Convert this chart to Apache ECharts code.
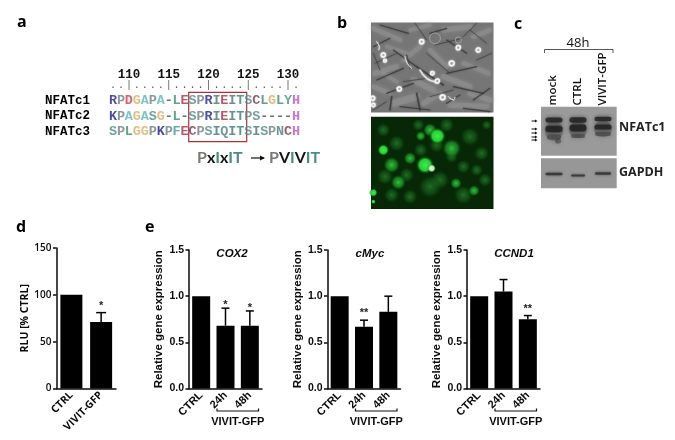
<!DOCTYPE html>
<html><head><meta charset="utf-8">
<style>html,body{margin:0;padding:0;background:#fff}#c{width:675px;height:440px}</style>
<script src="https://cdn.jsdelivr.net/npm/echarts@6/dist/echarts.min.js"></script>
</head><body><div id="c"></div>
<script>
// ---------- data ----------
const seqNames = ['NFATc1', 'NFATc2', 'NFATc3'];
const seqRows = ['RPDGAPA-LESPRIEITSCLGLYH', 'KPAGASG-L-SPRIEITPS----H', 'SPLGGPKPFECPSIQITSISPNCH'];
const rulerRow = '..|....|....|....|....|.';
const residueNumbers = ['110', '115', '120', '125', '130'];
const rlu = { cats: ['CTRL', 'VIVIT-GFP'], vals: [100, 71], errs: [null, 81], stars: ['', '*'] };
const timeCats = ['CTRL', '24h', '48h'];
const cox2 = [1.0, 0.68, 0.68];
const cox2Err = [null, 0.87, 0.84];
const cox2Stars = ['', '*', '*'];
const cmyc = [1.0, 0.67, 0.83];
const cmycErr = [null, 0.74, 1.0];
const cmycStars = ['', '**', ''];
const ccnd1 = [1.0, 1.05, 0.75];
const ccnd1Err = [null, 1.18, 0.79];
const ccnd1Stars = ['', '', '**'];

// ---------- style ----------
const resColor = { R:'#1d1d8c', K:'#1d1d8c', D:'#cf3a44', E:'#a92f3f', G:'#dcae62', A:'#58b9ba', P:'#6f7e80',
  '-':'#3f4f45', L:'#338c6c', S:'#4f888a', I:'#3f7776', T:'#338074', C:'#82304a', H:'#c050c2', Y:'#3d9884',
  F:'#3698a0', N:'#487e82', Q:'#508088' };
const sans = '"Liberation Sans"', mono = '"Liberation Mono"', soft = '"Open Sans"';
const INK = '#0a0a0a';

const panels = [
  { name:'', titleOff:0, left:56.5, width:59.5, cats:rlu.cats, vals:rlu.vals, errs:rlu.errs, stars:rlu.stars, max:150, step:50,
    barW:22, cap:10, starGap:10, yName:'RLU [% CTRL]', font:soft, size:10.5, nameSize:10.5, nameGap:22, top:248, bottom:388.5 },
  { name:'COX2', titleOff:38, left:189, width:73, cats:timeCats, vals:cox2, errs:cox2Err, stars:cox2Stars, max:1.5, step:0.5,
    barW:18, cap:8, starGap:6, yName:'Relative gene expression', font:sans, size:11, nameSize:11.5, nameGap:24, top:250, bottom:388.5 },
  { name:'cMyc', titleOff:37.5, left:327.5, width:73, cats:timeCats, vals:cmyc, errs:cmycErr, stars:cmycStars, max:1.5, step:0.5,
    barW:18, cap:8, starGap:10, yName:'Relative gene expression', font:sans, size:11, nameSize:11.5, nameGap:24, top:250, bottom:388.5 },
  { name:'CCND1', titleOff:42, left:467, width:73, cats:timeCats, vals:ccnd1, errs:ccnd1Err, stars:ccnd1Stars, max:1.5, step:0.5,
    barW:18, cap:8, starGap:10, yName:'Relative gene expression', font:sans, size:11, nameSize:11.5, nameGap:24, top:250, bottom:388.5 }
];

const grid = [], xAxis = [], yAxis = [], series = [], title = [], graphic = [];

panels.forEach((p, i) => {
  grid.push({ left:p.left, width:p.width, top:p.top, height:p.bottom - p.top, containLabel:false });
  xAxis.push({ type:'category', gridIndex:i, data:p.cats,
    axisLine:{ lineStyle:{ color:INK, width:1.5 } }, axisTick:{ show:false },
    axisLabel:{ rotate:45, interval:0, margin:5, color:INK, fontFamily:p.font, fontWeight:'bold', fontSize:p.size } });
  yAxis.push({ type:'value', gridIndex:i, min:0, max:p.max, interval:p.step, splitLine:{ show:false },
    name:p.yName, nameLocation:'middle', nameGap:p.nameGap,
    nameTextStyle:{ color:INK, fontFamily:p.font, fontWeight:'bold', fontSize:p.nameSize },
    axisLine:{ show:true, lineStyle:{ color:INK, width:1.5 } },
    axisTick:{ show:true, length:3.5, lineStyle:{ color:INK, width:1.5 } },
    axisLabel:{ margin:5, color:INK, fontFamily:p.font, fontWeight: i ? 'bold' : 600, fontSize: i ? 10.5 : 10,
      formatter: v => p.step < 1 ? v.toFixed(1) : String(v) } });
  series.push({ type:'bar', xAxisIndex:i, yAxisIndex:i, data:p.vals, barWidth:p.barW, itemStyle:{ color:'#000' }, silent:true });
  series.push({ type:'custom', xAxisIndex:i, yAxisIndex:i, silent:true, clip:false,
    data:p.cats.map((c, k) => [k, p.vals[k], p.errs[k] == null ? p.vals[k] : p.errs[k], p.stars[k]]),
    encode:{ x:0, y:2 },
    renderItem(params, api) {
      const base = api.coord([api.value(0), api.value(1)]);
      const top = api.coord([api.value(0), api.value(2)]);
      const kids = [];
      if (p.errs[params.dataIndex] != null) {
        kids.push({ type:'line', shape:{ x1:base[0], y1:base[1], x2:top[0], y2:top[1] }, style:{ stroke:'#000', lineWidth:1.5 } });
        kids.push({ type:'line', shape:{ x1:top[0]-p.cap/2, y1:top[1], x2:top[0]+p.cap/2, y2:top[1] }, style:{ stroke:'#000', lineWidth:1.5 } });
      }
      const s = p.stars[params.dataIndex];
      if (s) kids.push({ type:'text', style:{ text:s, x:top[0], y:top[1]-p.starGap+3, align:'center', verticalAlign:'middle',
        fill:'#222', font:'bold 11px "Liberation Sans"' } });
      return { type:'group', children:kids };
    } });
  if (p.name) {
    title.push({ text:p.name, left:p.left + p.titleOff, top:243, textAlign:'center',
      textStyle:{ color:INK, fontFamily:sans, fontStyle:'italic', fontWeight:'bold', fontSize:11.5 } });
    const x1 = p.left + 28, x2 = p.left + 69.5;
    graphic.push({ type:'polyline', shape:{ points:[[x1,408.5],[x1,411],[x2,411],[x2,408.5]] }, style:{ stroke:'#111', lineWidth:1.2, fill:null } });
    graphic.push({ type:'text', x:(x1+x2)/2, y:421.5, style:{ text:'VIVIT-GFP', align:'center', verticalAlign:'middle', fill:INK, font:'bold 11px "Liberation Sans"' } });
  }
});

// ---------- alignment, drawn as a category grid ----------
const AL = panels.length;
grid.push({ left:109, width:191, top:77.5, height:62 });
xAxis.push({ type:'category', gridIndex:AL, position:'top', boundaryGap:true,
  data:rulerRow.split('').map((c, k) => c === '|' ? residueNumbers[(k - 2) / 5] : ''),
  axisLine:{ show:false }, axisTick:{ show:false },
  axisLabel:{ interval:0, margin:-4, color:'#111', fontFamily:mono, fontWeight:'bold', fontSize:12.5 } });
yAxis.push({ type:'category', gridIndex:AL, inverse:true, data:[''].concat(seqNames),
  axisLine:{ show:false }, axisTick:{ show:false }, splitLine:{ show:false },
  axisLabel:{ interval:0, align:'left', margin:64, color:'#000', fontFamily:mono, fontWeight:'bold', fontSize:12.5 } });
const alignData = [];
rulerRow.split('').forEach((ch, k) => alignData.push({ value:[k, 0], label:{ formatter:ch, color:'#333', fontWeight:'normal', fontSize:ch === '|' ? 10 : 11 } }));
seqRows.forEach((row, r) => row.split('').forEach((ch, k) =>
  alignData.push({ value:[k, r + 1], label:{ formatter:ch, color:resColor[ch] } })));
series.push({ type:'scatter', xAxisIndex:AL, yAxisIndex:AL, silent:true, symbolSize:1, itemStyle:{ color:'transparent' },
  data:alignData, label:{ show:true, position:'inside', fontFamily:mono, fontWeight:'bold', fontSize:13.5 } });

// ---------- annotations ----------
const T = (text, x, y, font, fill, extra) => graphic.push({ type:'text', x, y, rotation:(extra && extra.rot) || 0,
  style:{ text, font, fill:fill || '#000', align:(extra && extra.align) || 'left', verticalAlign:'middle', rich:extra && extra.rich } });
[['a',17,22],['b',337,23],['c',514,24],['d',16,227],['e',145,227]].forEach(l => T(l[0], l[1], l[2], 'bold 16px "Open Sans"'));

graphic.push({ type:'rect', shape:{ x:188.7, y:92.3, width:58, height:49.4 }, style:{ fill:null, stroke:'#a8343a', lineWidth:1.2 } });
const motif = (parts, x) => {
  let rich = {}, s = '';
  parts.forEach((p, k) => { rich['m'+k] = { fill:p[1], font:'bold 16px Lato' }; s += '{m'+k+'|'+p[0]+'}'; });
  graphic.push({ type:'text', x, y:158, style:{ text:s, rich, verticalAlign:'middle' } });
};
const gy = '#7a7a72', tl = '#3f8f80', tb = '#4a8a92', bk = '#111';
motif([['P',gy],['x',bk],['I',tl],['x',bk],['I',tl],['T',tb]], 197);
motif([['P',gy],['V',bk],['I',tl],['V',bk],['I',tl],['T',tb]], 269);
graphic.push({ type:'line', shape:{ x1:251, y1:158, x2:264, y2:158 }, style:{ stroke:'#111', lineWidth:1.2 } });
graphic.push({ type:'polygon', shape:{ points:[[265,158],[260,155.5],[260,160.5]] }, style:{ fill:'#111' } });

// ---------- phase-contrast picture ----------
const zx = x => 330 + x / 3, zy = y => 10 + y / 3;
graphic.push({ type:'rect', shape:{ x:371, y:22.5, width:122.5, height:90 }, style:{ fill:'#767676' } });
const phaseLight = [[130,55,210,90,6],[240,60,300,45,5],[340,60,420,50,7],[430,80,480,60,6],[135,190,200,170,7],[220,150,270,110,6],
  [340,200,420,230,7],[400,160,475,190,6],[190,280,260,260,9],[280,280,330,250,7],[360,285,470,290,7],[130,230,180,250,6],
  [250,210,310,240,8],[300,120,350,170,6],[420,250,480,270,7],[170,110,230,130,5],[200,215,160,190,5]];
const phaseDark = [[150,45,235,70,3],[255,40,290,90,2],[300,70,350,55,3],[350,90,410,130,3],[420,60,470,100,2],[130,110,180,85,3],
  [190,120,260,170,3],[230,135,240,175,3],[135,160,200,130,2],[140,210,220,175,3],[260,170,340,225,4],[290,130,360,190,2],
  [350,190,440,170,3],[440,150,485,130,2],[370,230,460,250,3],[170,250,250,220,3],[180,300,185,260,4],[260,250,270,300,4],
  [300,260,370,240,2],[350,280,390,255,3],[430,270,480,235,3],[130,300,170,275,2],[220,215,290,205,2],[130,130,150,180,2],[400,80,440,40,2],
  [315,105,395,85,2],[210,290,300,300,3],[400,295,480,305,3]];
const phaseRings = [[275,95,5],[160,135,5],[165,152,3],[385,113,5],[445,120,5],[365,160,6],[307,190,4],[322,213,5],[208,237,5],
  [338,262,6],[128,265,5],[130,285,4],[315,85,15],[385,90,8]];
const phaseArcs = [[270,180,290,205,315,215,3],[140,95,148,110,146,120,2],[225,140,232,160,245,175,2],[355,260,370,270,375,262,2]];
phaseLight.forEach(s => graphic.push({ type:'line', shape:{ x1:zx(s[0]), y1:zy(s[1]), x2:zx(s[2]), y2:zy(s[3]) },
  style:{ stroke:'#929292', lineWidth:s[4] * .8, lineCap:'round', opacity:.5, shadowColor:'#999', shadowBlur:4 } }));
phaseDark.forEach(s => graphic.push({ type:'line', shape:{ x1:zx(s[0]), y1:zy(s[1]), x2:zx(s[2]), y2:zy(s[3]) },
  style:{ stroke:'#353535', lineWidth:s[4] * .4, lineCap:'round', opacity:.7, shadowColor:'#444', shadowBlur:2 } }));
phaseArcs.forEach(s => graphic.push({ type:'polyline', shape:{ points:[[zx(s[0]),zy(s[1])],[zx(s[2]),zy(s[3])],[zx(s[4]),zy(s[5])]], smooth:.5 },
  style:{ stroke:'#e4e4e4', lineWidth:s[6] * .5, fill:null, lineCap:'round', shadowColor:'#ddd', shadowBlur:2 } }));
phaseRings.forEach(s => graphic.push({ type:'circle', shape:{ cx:zx(s[0]), cy:zy(s[1]), r:s[2] / 3 + .4 },
  style:{ stroke: s[2] > 7 ? '#aaaaaa' : '#f4f4f4', lineWidth: s[2] > 7 ? .8 : 1.5, fill: s[2] > 7 ? null : 'rgba(70,70,70,.5)', shadowColor:'#fff', shadowBlur: s[2] > 7 ? 0 : 2 } }));

// ---------- fluorescence picture ----------
graphic.push({ type:'rect', shape:{ x:371, y:116.7, width:122.5, height:92.3 }, style:{ fill:'#072707' } });
const glow = (cx, cy, rx, ry, rot, core, edge) => graphic.push({ type:'ellipse', x:zx(cx), y:zy(cy), rotation:rot, shape:{ cx:0, cy:0, rx:rx / 3, ry:ry / 3 },
  style:{ fill:{ type:'radial', x:.5, y:.5, r:.5, colorStops:[{ offset:0, color:core },{ offset:.6, color:edge },{ offset:1, color:'rgba(0,60,0,0)' }] } } });
const greenDim = [[160,360,34,22,.5],[265,345,20,32,0],[200,400,40,26,.4],[272,420,22,34,.4],[320,405,36,24,0],[330,510,30,36,0],[455,430,24,38,-.6],[230,495,36,24,-.5],[400,470,36,22,.6],[470,345,16,26,0],
  [300,530,36,40,0],[365,440,20,20,0],[240,560,36,24,.3],[420,380,30,42,.4],[165,500,26,40,.2],[465,510,22,40,.2],[350,345,24,24,0],[400,555,30,30,0],[185,555,24,24,0],[440,480,20,30,-.5]];
const greenMid = [[185,465,42,26,.4],[205,517,28,24,0],[240,445,20,26,0],[272,378,18,16,0],[378,520,18,34,0],[432,542,34,18,.2],[365,415,32,30,0],[300,360,22,34,.2]];
const greenBright = [[322,378,34,26,0],[285,465,28,28,0],[160,420,18,18,0],[130,548,13,16,0],[130,575,7,7,0]];
greenDim.forEach(g => glow(g[0], g[1], g[2], g[3], g[4], 'rgba(40,150,50,.65)', 'rgba(25,105,30,.45)'));
greenMid.forEach(g => glow(g[0], g[1], g[2], g[3], g[4], 'rgba(50,205,60,.95)', 'rgba(30,150,40,.7)'));
greenBright.forEach(g => glow(g[0], g[1], g[2], g[3], g[4], '#3cf04c', 'rgba(40,215,55,.95)'));
glow(305, 475, 14, 13, 0, '#f4fff4', 'rgba(190,255,190,.85)');

// ---------- blot ----------
T('48h', 578, 43, '13px "Open Sans"', '#111', { align:'center' });
graphic.push({ type:'polyline', shape:{ points:[[544.5,53],[544.5,49.5],[613,49.5],[613,53]] }, style:{ stroke:'#555', lineWidth:1, fill:null } });
[['mock',553],['CTRL',578],['VIVIT-GFP',603]].forEach(l => T(l[0], l[1], 105.5, '600 11.5px "Open Sans"', '#111', { rot:Math.PI / 2, align:'left' }));
graphic.push({ type:'rect', shape:{ x:541, y:106.7, width:75.7, height:49 }, style:{ fill:'#9a9a9a' } });
graphic.push({ type:'rect', shape:{ x:541, y:158.3, width:75.7, height:30 }, style:{ fill:'#979797' } });
const band = (cx, cy, w, h, dark, blur) => graphic.push({ type:'rect', shape:{ x:cx - w, y:cy - h, width:2 * w, height:2 * h, r:h },
  style:{ fill:dark, shadowColor:dark, shadowBlur:blur } });
const smears = [[554,131,9,10],[578,130,9,8],[603,129,9,8]];
const faint = [[603,134,8,2],[554,137,7,2.5],[558,141,3,2.5],[578,136,7,2]];
const thick = [[554,120,8.5,2.6],[554,129,8.5,3.2],[578,120,8.5,2.8],[578,128,8.5,3.4],[603,119,8.5,2.2],[603,127,8.5,2.6]];
const gapdh = [[554,174,8.5,1.3],[578,175.5,7,1],[603,173.5,8,1.2]];
smears.forEach(b => band(b[0], b[1], b[2], b[3], 'rgba(70,70,70,.4)', 7));
faint.forEach(b => band(b[0], b[1], b[2], b[3], 'rgba(60,60,60,.55)', 4));
thick.forEach(b => band(b[0], b[1], b[2], b[3], 'rgba(30,30,30,.8)', 4));
gapdh.forEach(b => band(b[0], b[1], b[2], b[3], 'rgba(50,50,50,.85)', 3));
[121,129,133,137,140].forEach((y, k) => {
  graphic.push({ type:'line', shape:{ x1:531.5, y1:y, x2:536, y2:y }, style:{ stroke:'#111', lineWidth:1 } });
  graphic.push({ type:'polygon', shape:{ points:[[537.5,y],[535,y-1.5],[535,y+1.5]] }, style:{ fill:'#111' } });
});
T('NFATc1', 619, 127, 'bold 12.5px "Open Sans"', '#222');
T('GAPDH', 619, 172, 'bold 12.5px "Open Sans"', '#222');

const chart = echarts.init(document.getElementById('c'), null, { renderer:'canvas', width:675, height:440 });
chart.setOption({ backgroundColor:'#fff', animation:false, tooltip:{ show:false }, title, grid, xAxis, yAxis, series,
  graphic:{ elements:graphic } });
</script></body></html>
